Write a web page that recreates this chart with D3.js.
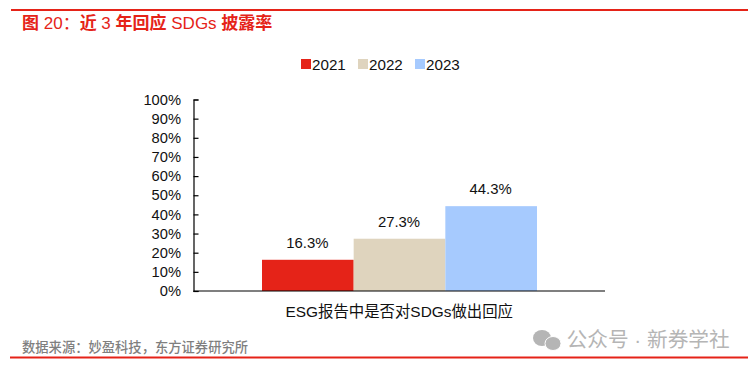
<!DOCTYPE html>
<html><head><meta charset="utf-8">
<script src="https://cdn.jsdelivr.net/npm/d3@7"></script>
<style>html,body{margin:0;padding:0;background:#fff}svg{display:block}
text{font-family:"Liberation Sans","Noto Sans CJK SC",sans-serif}</style></head>
<body><div id="c"></div>
<script>
const years = ["2021","2022","2023"];
const values = [16.3,27.3,44.3];
const colors = ["#E52318","#DFD4BE","#A6CAFE"];
const category = ["ESG报告中是否对SDGs做出回应"];
const yTicks = [0,10,20,30,40,50,60,70,80,90,100];
const titleParts = [["图",1],[" 20：",0],["近",1],[" 3 ",0],["年回应",1],[" SDGs ",0],["披露率",1]];
const source = "数据来源：妙盈科技，东方证券研究所";
const watermark = "公众号 · 新券学社";

const W=755,H=370;
const svg=d3.select("#c").append("svg").attr("width",W).attr("height",H);
const red="#E52318";
svg.append("line").attr("x1",11).attr("x2",748).attr("y1",10).attr("y2",10).attr("stroke",red).attr("stroke-width",2);
svg.append("line").attr("x1",10).attr("x2",748).attr("y1",357.5).attr("y2",357.5).attr("stroke",red).attr("stroke-width",2);
svg.append("text").attr("x",22).attr("y",29).attr("fill",red).attr("font-size",17).style("white-space","pre")
 .selectAll("tspan").data(titleParts).join("tspan").attr("font-weight",d=>d[1]?"bold":"normal").text(d=>d[0]);
svg.append("text").attr("x",22).attr("y",352).attr("fill","#7f7f7f").attr("font-size",13.3).attr("font-weight",500).text(source);

const y=d3.scaleLinear().domain([0,100]).range([291,99.5]);
const x0=d3.scaleBand().domain(category).range([193.5,605]);
const x1=d3.scaleBand().domain(years).range([262,537]);

const ax=svg.append("g").attr("transform","translate(193.5,0)")
 .call(d3.axisRight(y).tickValues(yTicks).tickSize(5).tickFormat(""));
ax.selectAll("path").attr("stroke","#000").attr("stroke-width",1.2);
ax.selectAll("line").attr("stroke","#000").attr("stroke-width",1.2);
svg.append("g").selectAll("text").data(yTicks).join("text")
 .attr("x",181).attr("y",d=>y(d)+5.2).attr("text-anchor","end").attr("font-size",14.7).attr("fill","#111")
 .text(d=>d+"%");

svg.append("g").selectAll("rect").data(years).join("rect")
 .attr("x",d=>x1(d)).attr("width",x1.bandwidth())
 .attr("y",(d,i)=>y(values[i])).attr("height",(d,i)=>y(0)-y(values[i]))
 .attr("fill",(d,i)=>colors[i]);
svg.append("line").attr("x1",193.5).attr("x2",605).attr("y1",291).attr("y2",291).attr("stroke","#000").attr("stroke-width",1.2);
svg.append("g").selectAll("text").data(years).join("text")
 .attr("x",d=>x1(d)+x1.bandwidth()/2-0.5).attr("y",(d,i)=>y(values[i])-12).attr("text-anchor","middle")
 .attr("font-size",14.9).attr("fill","#111").text((d,i)=>values[i].toFixed(1)+"%");
svg.append("text").attr("x",x0(category[0])+x0.bandwidth()/2).attr("y",317).attr("text-anchor","middle")
 .attr("font-size",15.4).attr("fill","#111").text(category[0]);

const lx=[301,358,415];
const lg=svg.append("g").selectAll("g").data(years).join("g").attr("transform",(d,i)=>`translate(${lx[i]},59)`);
lg.append("rect").attr("width",10).attr("height",10).attr("fill",(d,i)=>colors[i]);
lg.append("text").attr("x",11).attr("y",10.5).attr("font-size",15.2).attr("fill","#111").text(d=>d);

// watermark
const wm=svg.append("g").attr("fill","#b5b5b5");
wm.append("ellipse").attr("cx",542).attr("cy",338).attr("rx",9).attr("ry",8);
wm.append("ellipse").attr("cx",553).attr("cy",343.5).attr("rx",8).attr("ry",7).attr("stroke","#fff").attr("stroke-width",1);
svg.append("text").attr("x",566.5).attr("y",347).attr("fill","#b5b5b5").attr("font-size",20.7).text(watermark);
</script></body></html>
